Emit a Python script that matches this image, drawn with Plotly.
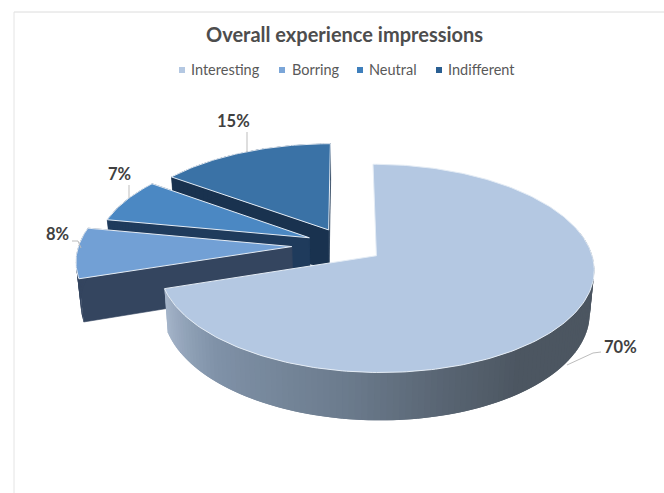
import math
import plotly.graph_objects as go

# Survey results
categories = ["Interesting", "Borring", "Neutral", "Indifferent"]
values = [70, 8, 7, 15]
top_colors = ["#b4c8e2", "#72a0d5", "#4b88c3", "#3a72a6"]
cut_colors = ["#5f6f84", "#34455f", "#1f3b5c", "#19324f"]
legend_colors = ["#b4c8e2", "#7ba6d8", "#3f7fbc", "#2a5f92"]
explode = [0.18, 0.25, 0.184, 0.172]

# Projection of the tilted pie onto the page, in pixels
CX, CY = 345, 245
RX, RY = 213, 100
PERSPECTIVE = 0.12
DEPTH = 41.5
BOTTOM_SHRINK = 0.982

# Page furniture
legend_marker_x = [182, 282, 360, 439]
legend_text_x = [191, 292, 369, 448]
legend_y = 70
label_pos = [(620, 347), (57, 234), (119, 174), (233, 121)]
leaders = [
    [(567, 365), (593, 353), (601, 352)],
    [(72, 241), (78, 241), (81, 248)],
    [(129, 185), (129, 198)],
    [(247, 132), (247, 152)],
]


def project(x, y, bottom=False):
    s = 1 / (1 - PERSPECTIVE * y)
    px = CX + RX * x * s
    py = CY + RY * y * s
    if bottom:
        px = CX + (px - CX) * BOTTOM_SHRINK
        py += DEPTH * s
    return px, py


def rim(ex, ey, a0, a1, bottom=False, step=1.0):
    n = max(2, int(abs(a1 - a0) / step))
    pts = []
    for i in range(n + 1):
        t = math.radians(a0 + (a1 - a0) * i / n)
        pts.append(project(ex + math.sin(t), ey - math.cos(t), bottom))
    return pts


def poly(fig, pts, fill, line=None, width=0.6):
    fig.add_trace(go.Scatter(
        x=[p[0] for p in pts] + [pts[0][0]],
        y=[p[1] for p in pts] + [pts[0][1]],
        mode="lines", fill="toself", fillcolor=fill,
        line=dict(color=line or fill, width=width),
        hoverinfo="skip", showlegend=False,
    ))


def mix(c0, c1, f):
    return "rgb(%d,%d,%d)" % tuple(round(a + (b - a) * f) for a, b in zip(c0, c1))


def wall_color(idx, angle):
    # The big slice is shaded from light on the left to dark on the right
    if idx != 0:
        return cut_colors[idx]
    stops = [(252, (165, 181, 202)), (225, (128, 146, 168)), (190, (108, 124, 142)),
             (165, (88, 100, 114)), (145, (76, 86, 97)), (0, (74, 84, 95))]
    for (a0, c0), (a1, c1) in zip(stops, stops[1:]):
        if a1 <= angle <= a0:
            return mix(c0, c1, (a0 - angle) / (a0 - a1))
    return mix(stops[-1][1], stops[-1][1], 0)


fig = go.Figure()

# Slice angles run clockwise from twelve o'clock
total = sum(values)
spans = []
start = 0.0
for v in values:
    end = start + 360.0 * v / total
    spans.append((start, end))
    start = end

# Back slices are painted first so the nearer ones cover them
for idx in [3, 2, 1, 0]:
    a0, a1 = spans[idx]
    mid = math.radians((a0 + a1) / 2)
    ex, ey = explode[idx] * math.sin(mid), -explode[idx] * math.cos(mid)
    apex_top = project(ex, ey)
    apex_bot = project(ex, ey, True)

    # Cut faces exposed by pulling the slice away from the centre;
    # those of the big slice face away from the viewer
    if idx != 0:
        for edge in (a1, a0):
            t = rim(ex, ey, edge, edge + 0.001)[0]
            b = rim(ex, ey, edge, edge + 0.001, True)[0]
            poly(fig, [apex_top, t, b, apex_bot], cut_colors[idx])

    # Outer wall, in narrow overlapping strips so the shading can vary along it;
    # the rear part of the big slice's wall is never in view
    wall_start = 75.0 if idx == 0 else a0
    seg = 1.5
    n = max(1, int((a1 - wall_start) / seg))
    for i in range(n):
        s0 = wall_start + (a1 - wall_start) * i / n
        s1 = min(a1, wall_start + (a1 - wall_start) * (i + 1) / n + 1.5)
        t = rim(ex, ey, s0, s1, step=1.0)
        b = rim(ex, ey, s0, s1, True, step=1.0)
        poly(fig, t + b[::-1], wall_color(idx, (s0 + s1) / 2), width=0)

    # Top face
    poly(fig, [apex_top] + rim(ex, ey, a0, a1), top_colors[idx], "#e4ecf5", 1)

# Leader lines
for pts in leaders:
    fig.add_trace(go.Scatter(
        x=[p[0] for p in pts], y=[p[1] for p in pts], mode="lines",
        line=dict(color="#bdbdbd", width=1), hoverinfo="skip", showlegend=False,
    ))

# Legend row
for name, color, mx, tx in zip(categories, legend_colors, legend_marker_x, legend_text_x):
    fig.add_trace(go.Scatter(
        x=[mx], y=[legend_y], mode="markers",
        marker=dict(symbol="square", size=6, color=color),
        hoverinfo="skip", showlegend=False,
    ))
    fig.add_trace(go.Scatter(
        x=[tx], y=[legend_y + 1], mode="text", text=[name],
        textposition="middle right",
        textfont=dict(family="Lato", size=14.5, color="#595959"),
        hoverinfo="skip", showlegend=False,
    ))

annotations = [
    dict(x=344, y=34, text="<b>Overall experience impressions</b>", showarrow=False,
         font=dict(family="Lato", size=20, color="#4d4d4d"), xref="x", yref="y"),
]
for v, (x, y) in zip(values, label_pos):
    annotations.append(dict(x=x, y=y, text=f"<b>{v}%</b>", showarrow=False,
                            font=dict(family="Lato", size=16.5, color="#404040"),
                            xref="x", yref="y"))

shapes = [
    dict(type="line", x0=14, x1=664, y0=12, y1=12, line=dict(color="#dcdcdc", width=1), layer="below"),
    dict(type="line", x0=14, x1=14, y0=12, y1=493, line=dict(color="#e4e4e4", width=1), layer="below"),
]

fig.update_layout(
    width=664, height=493,
    margin=dict(l=0, r=0, t=0, b=0),
    paper_bgcolor="white", plot_bgcolor="white",
    xaxis=dict(range=[0, 664], visible=False, fixedrange=True),
    yaxis=dict(range=[493, 0], visible=False, fixedrange=True),
    annotations=annotations, shapes=shapes, showlegend=False,
)

fig.write_html("out.html", config={"displayModeBar": False})
